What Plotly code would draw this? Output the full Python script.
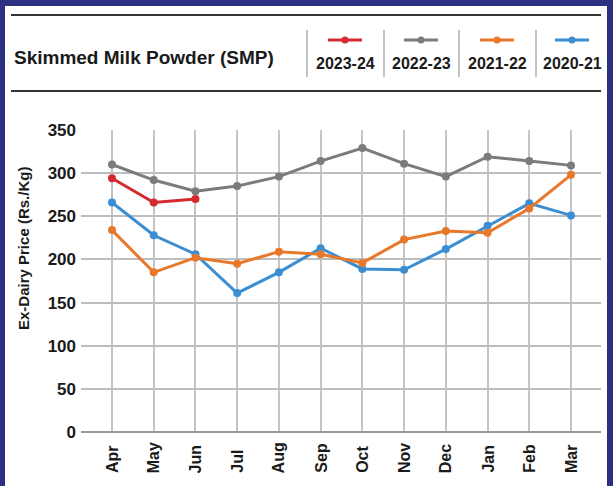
import plotly.graph_objects as go

months = ["Apr", "May", "Jun", "Jul", "Aug", "Sep", "Oct", "Nov", "Dec", "Jan", "Feb", "Mar"]
s_2023_24 = [294, 266, 270]
s_2022_23 = [310, 292, 279, 285, 296, 314, 329, 311, 296, 319, 314, 309]
s_2021_22 = [234, 185, 202, 195, 209, 206, 196, 223, 233, 231, 259, 298]
s_2020_21 = [266, 228, 206, 161, 185, 213, 189, 188, 212, 239, 265, 251]
series_names = ["2023-24", "2022-23", "2021-22", "2020-21"]
series_colors = ["#d42a30", "#7b7b7b", "#e8782a", "#3b8ed2"]
y_ticks = [0, 50, 100, 150, 200, 250, 300, 350]
title_text = "Skimmed Milk Powder (SMP)"
y_title = "Ex-Dairy Price (Rs./Kg)"

W, H = 613, 486
L, R, T, B = 81, 12, 130, 54
PW, PH = W - L - R, H - T - B


def px(x):
    return (x - L) / PW


def py(y):
    return (H - B - y) / PH


fig = go.Figure()
data = [s_2020_21, s_2021_22, s_2022_23, s_2023_24]
order = [3, 2, 1, 0]
for d, idx in zip(data, order):
    fig.add_trace(go.Scatter(
        x=months[:len(d)], y=d, mode="lines+markers", name=series_names[idx],
        line=dict(color=series_colors[idx], width=3),
        marker=dict(color=series_colors[idx], size=8),
        showlegend=False,
    ))

shapes = []
# white panel
shapes.append(dict(type="rect", xref="paper", yref="paper", x0=px(5), x1=px(607), y0=py(486), y1=py(6),
                   fillcolor="white", line=dict(width=0), layer="below"))
# rules
for yy in (15, 91):
    shapes.append(dict(type="line", xref="paper", yref="paper", x0=px(11), x1=px(601), y0=py(yy), y1=py(yy),
                       line=dict(color="#333333", width=2)))
# separators
for xx in (307, 384, 459, 536):
    shapes.append(dict(type="line", xref="paper", yref="paper", x0=px(xx), x1=px(xx), y0=py(30), y1=py(77),
                       line=dict(color="#9a9a9a", width=1.2)))

annotations = []
centers = [345, 421, 497, 572]
for c, name, col in zip(centers, series_names, series_colors):
    shapes.append(dict(type="line", xref="paper", yref="paper", x0=px(c - 17), x1=px(c + 17), y0=py(40), y1=py(40),
                       line=dict(color=col, width=3)))
    r = 3.5
    shapes.append(dict(type="circle", xref="paper", yref="paper", x0=px(c - r), x1=px(c + r), y0=py(40 + r), y1=py(40 - r),
                       fillcolor=col, line=dict(width=0)))
    annotations.append(dict(text=name, xref="paper", yref="paper", x=px(c), y=py(63), xanchor="center", yanchor="middle",
                            showarrow=False, font=dict(family="Liberation Sans", size=16, color="#1a1a1a", weight="bold")))

annotations.append(dict(text=title_text, xref="paper", yref="paper", x=px(12), y=py(57), xanchor="left", yanchor="middle",
                        showarrow=False, font=dict(family="Liberation Sans", size=19, color="#1a1a1a", weight="bold")))
annotations.append(dict(text=y_title, xref="paper", yref="paper", x=px(23), y=py(249), xanchor="center", yanchor="middle",
                        textangle=-90, showarrow=False,
                        font=dict(family="Liberation Sans", size=15, color="#1a1a1a", weight="bold")))
for m in months:
    annotations.append(dict(text=m, xref="x", yref="paper", x=m, y=py(475), xanchor="center", yanchor="bottom",
                            textangle=-90, showarrow=False,
                            font=dict(family="Liberation Sans", size=16, color="#1a1a1a", weight="bold")))

fig.update_layout(
    width=W, height=H,
    margin=dict(l=L, r=R, t=T, b=B),
    paper_bgcolor="#2b3180",
    plot_bgcolor="white",
    shapes=shapes,
    annotations=annotations,
    xaxis=dict(type="category", categoryorder="array", categoryarray=months, range=[-0.743, 11.719],
               showgrid=True, gridcolor="#c4c4c4", gridwidth=1.5, showticklabels=False, showline=False,
               zeroline=False, fixedrange=True),
    yaxis=dict(range=[0, 350], tickvals=y_ticks, showgrid=True, gridcolor="#bdbdbd", gridwidth=1.5,
               zeroline=True, zerolinecolor="#9a9a9a", zerolinewidth=2, showline=False,
               tickfont=dict(family="Liberation Sans", size=17, color="#1a1a1a", weight="bold"),
               ticks="", ticklabelstandoff=4, fixedrange=True),
    showlegend=False,
)

fig.write_html("out.html", config={"displayModeBar": False},
               post_script="document.body.style.margin='0';document.documentElement.style.overflow='hidden';")
